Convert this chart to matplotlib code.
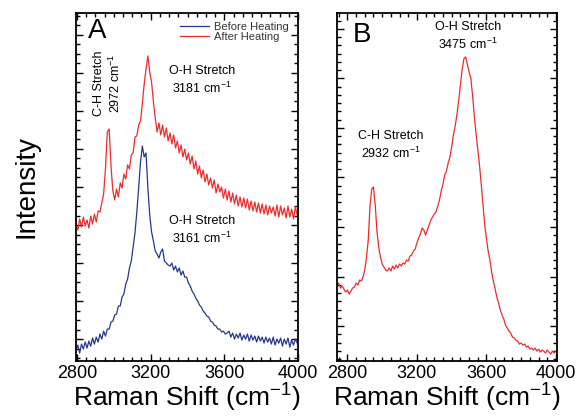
import numpy as np
import matplotlib
matplotlib.use("Agg")
import matplotlib.pyplot as plt
from matplotlib.ticker import MultipleLocator, AutoMinorLocator

plt.rcParams['font.family'] = ['Liberation Sans', 'DejaVu Sans']
plt.rcParams['mathtext.default'] = 'regular'

# wavenumber grids (cm-1)
shift_a = np.arange(2795, 4000, 10)
shift_b = np.arange(2740, 4001, 10)

# panel A, after heating (arbitrary intensity)
after_a = [137, 131, 142, 134, 144, 135, 141, 133, 145, 137, 147, 139,
           150, 149, 158, 167, 192, 229, 232, 195, 170, 161,
           172, 164, 178, 173, 187, 182, 196, 192, 206, 208,
           224, 225, 236, 240, 257, 277, 292, 305, 289, 279,
           259, 243, 229, 238, 226, 236, 224, 233, 220, 228,
           217, 226, 213, 220, 208, 216, 204, 212, 201, 208,
           197, 205, 192, 200, 187, 195, 183, 191, 179, 187,
           176, 183, 173, 181, 168, 177, 169, 174, 163, 172,
           161, 170, 159, 168, 157, 166, 155, 164, 154, 163,
           153, 162, 151, 160, 150, 159, 149, 158, 148, 157,
           147, 156, 146, 155, 148, 154, 145, 156, 144, 155,
           146, 153, 143, 155, 144, 152, 142, 154, 146]

# panel A, before heating
before_a = [11, 16, 8, 17, 12, 19, 13, 20, 15, 23, 17, 24,
            19, 27, 22, 30, 25, 32, 32, 39, 40, 46,
            47, 55, 55, 64, 67, 77, 82, 93, 100, 114,
            128, 149, 173, 199, 215, 204, 208, 173, 146, 129,
            120, 110, 107, 103, 109, 112, 100, 98, 96, 95,
            98, 91, 95, 89, 93, 86, 90, 84, 84, 78,
            75, 70, 67, 63, 60, 56, 54, 50, 48, 45,
            44, 40, 39, 36, 35, 32, 32, 29, 30, 27,
            28, 30, 24, 28, 22, 27, 23, 28, 21, 26,
            22, 27, 20, 26, 21, 25, 19, 25, 20, 24,
            18, 24, 19, 23, 17, 24, 16, 22, 18, 23,
            15, 22, 17, 23, 14, 21, 16, 22, 18]

# panel B
spec_b = [76, 78, 73, 75, 72, 69, 71, 67, 70, 73,
          74, 78, 76, 81, 80, 84, 91, 104, 121, 155,
          172, 174, 156, 130, 114, 104, 97, 94, 91, 90,
          93, 90, 95, 92, 96, 93, 97, 95, 98, 97,
          101, 100, 105, 106, 110, 112, 118, 123, 127, 133,
          131, 126, 131, 136, 141, 144, 147, 149, 155, 161,
          170, 177, 186, 190, 198, 204, 214, 226, 235, 246,
          260, 275, 291, 302, 304, 297, 289, 283, 266, 246,
          228, 212, 196, 177, 157, 136, 123, 110, 101, 89,
          80, 72, 64, 58, 51, 46, 42, 36, 33, 30,
          28, 24, 23, 21, 20, 17, 18, 16, 17, 14,
          15, 12, 13, 11, 13, 10, 12, 9, 11, 10,
          8, 11, 9, 7, 10, 8, 10]

red = '#ee2b2b'
blue = '#27368f'

fig = plt.figure(figsize=(5.8, 4.16), dpi=100)
ax1 = fig.add_axes([0.131, 0.132, 0.383, 0.837])
ax2 = fig.add_axes([0.581, 0.132, 0.379, 0.837])

ax1.plot(shift_a, before_a, color=blue, lw=0.9, label='Before Heating')
ax1.plot(shift_a, after_a, color=red, lw=0.9, label='After Heating')
ax2.plot(shift_b, spec_b, color=red, lw=0.9)

ax1.set_xlim(2795, 4000)
ax2.set_xlim(2740, 4005)

for ax in (ax1, ax2):
    ax.set_ylim(0, 348)
    ax.xaxis.set_major_locator(MultipleLocator(400))
    ax.xaxis.set_minor_locator(MultipleLocator(50))
    ax.tick_params(which='both', direction='in', top=True, right=True,
                   labelleft=False, labelsize=13, width=1, pad=2.5)
    ax.tick_params(which='major', length=5)
    ax.tick_params(which='minor', length=3)
    for s in ax.spines.values():
        s.set_linewidth(1.3)
    ax.set_xlabel('Raman Shift (cm$^{-1}$)', fontsize=19, labelpad=0)

ax1.yaxis.set_major_locator(MultipleLocator(38, offset=22))
ax1.yaxis.set_minor_locator(AutoMinorLocator(4))
ax2.yaxis.set_major_locator(MultipleLocator(49.5, offset=35))
ax2.yaxis.set_minor_locator(AutoMinorLocator(6))

ax1.set_ylabel('Intensity', fontsize=20, labelpad=26)

ax1.text(0.055, 0.985, 'A', transform=ax1.transAxes, fontsize=20, ha='left', va='top')
ax2.text(0.07, 0.975, 'B', transform=ax2.transAxes, fontsize=20, ha='left', va='top')

leg = ax1.legend(loc='upper right', bbox_to_anchor=(1.0, 1.0), frameon=False, fontsize=8,
                 handlelength=2.6, labelspacing=0.05, handletextpad=0.5, borderpad=0.3)
for t in leg.get_texts():
    t.set_color('#333333')

ax1.text(0.568, 0.807, 'O-H Stretch\n3181 cm$^{-1}$', transform=ax1.transAxes,
         fontsize=9, ha='center', va='center', linespacing=1.3)
ax1.text(0.568, 0.376, 'O-H Stretch\n3161 cm$^{-1}$', transform=ax1.transAxes,
         fontsize=9, ha='center', va='center', linespacing=1.3)
ax1.text(0.144, 0.799, 'C-H Stretch\n2972 cm$^{-1}$', transform=ax1.transAxes,
         fontsize=9, ha='center', va='center', rotation=90, linespacing=1.3)
ax2.text(0.595, 0.931, 'O-H Stretch\n3475 cm$^{-1}$', transform=ax2.transAxes,
         fontsize=9, ha='center', va='center', linespacing=1.3)
ax2.text(0.245, 0.618, 'C-H Stretch\n2932 cm$^{-1}$', transform=ax2.transAxes,
         fontsize=9, ha='center', va='center', linespacing=1.3)

fig.savefig('out.png', dpi=100)
